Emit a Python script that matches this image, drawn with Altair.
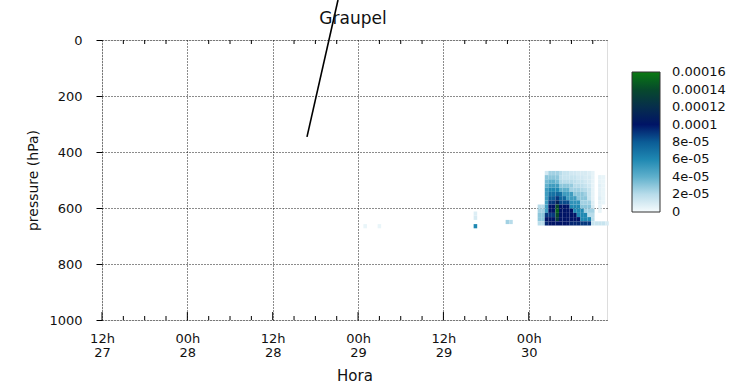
import altair as alt
import pandas as pd

FONT = "DejaVu Sans"

# ---- heatmap block (graupel mixing ratio, units of 1e-5) ----
blob_hours = [61.0, 61.5, 62.0, 62.5, 63.0, 63.5, 64.0, 64.5, 65.0, 65.5, 66.0,
              66.5, 67.0, 67.5, 68.0, 68.5, 69.0, 69.5, 70.0, 70.5, 71.0]
blob_levels = [475, 490, 505, 520, 535, 550, 565, 580, 595, 610, 625, 640, 655]
blob_values = [
    [0, 0, 0, 1.2, 2.5, 2.5, 2.5, 2.0, 1.5, 1.5, 1.2, 1.2, 1.0, 1.0, 1.0, 0.8, 0.5, 0, 0, 0, 0],
    [0, 0, 0, 3.0, 3.0, 3.0, 3.0, 1.8, 1.5, 1.5, 1.5, 1.5, 1.2, 1.2, 1.0, 1.0, 0.5, 0, 0.5, 0.4, 0],
    [0, 0, 0, 3.5, 4.0, 4.0, 3.5, 2.2, 2.0, 2.0, 2.0, 1.8, 1.5, 1.5, 1.2, 1.0, 0.5, 0, 0.5, 0.4, 0],
    [0, 0, 0, 4.0, 5.0, 5.0, 5.0, 3.0, 3.0, 3.0, 2.8, 2.0, 2.0, 1.8, 1.5, 1.2, 0.5, 0, 0.7, 0.4, 0],
    [0, 0, 0, 5.0, 6.0, 6.0, 6.0, 4.0, 4.0, 4.0, 2.5, 2.5, 2.5, 2.2, 2.0, 1.5, 0.5, 0, 0.6, 0.4, 0],
    [0, 0, 0, 5.0, 7.0, 7.0, 7.5, 7.0, 5.0, 5.0, 5.0, 3.0, 3.0, 3.0, 2.5, 1.5, 0.5, 0, 0.6, 0.4, 0],
    [0, 0, 0, 5.0, 8.0, 8.0, 9.0, 7.5, 7.5, 5.0, 5.0, 5.0, 3.0, 3.0, 3.0, 1.5, 0.5, 0, 0.8, 0.4, 0],
    [0, 0, 0, 5.0, 9.0, 9.0, 11.0, 8.5, 8.5, 8.5, 5.5, 5.5, 5.5, 2.5, 2.5, 2.5, 0.8, 0, 0.6, 0.4, 0],
    [0, 2.0, 2.0, 5.0, 10.0, 10.0, 14.0, 10.0, 10.0, 10.0, 6.0, 6.0, 6.0, 3.0, 3.0, 3.0, 1.0, 0, 0.5, 0, 0],
    [0, 2.5, 2.5, 5.0, 10.0, 10.0, 15.0, 10.0, 10.0, 10.0, 10.0, 6.0, 6.0, 6.0, 2.5, 2.5, 2.5, 0, 0.4, 0, 0],
    [0, 3.0, 3.0, 9.0, 9.0, 9.0, 14.0, 10.0, 10.0, 10.0, 10.0, 10.0, 6.0, 6.0, 6.0, 2.0, 2.0, 0, 0, 0, 0],
    [0, 3.0, 3.0, 10.0, 10.0, 10.0, 13.0, 10.0, 10.0, 10.0, 10.0, 10.0, 10.0, 6.0, 6.0, 6.0, 2.0, 0, 0, 0, 0],
    [0, 2.0, 2.0, 9.5, 10.0, 10.0, 10.0, 10.0, 10.0, 10.0, 9.5, 9.5, 9.5, 9.0, 9.0, 9.0, 1.5, 1.5, 1.5, 1.5, 1.0],
]

# ---- isolated cells elsewhere (hour, pressure, value in 1e-5) ----
iso_hours = [37.0, 39.0, 52.5, 52.5, 52.5, 57.0, 57.5]
iso_levels = [665, 665, 665, 635, 620, 650, 650]
iso_values = [0.4, 0.4, 6.0, 1.0, 0.8, 2.5, 2.0]

# ---- axes ----
x_major_hours = [0, 12, 24, 36, 48, 60]
x_major_labels = [["12h", " 27"], ["00h", " 28"], ["12h", " 28"],
                  ["00h", " 29"], ["12h", " 29"], ["00h", " 30"]]
x_minor_hours = [3, 6, 9, 15, 18, 21, 27, 30, 33, 39, 42, 45, 51, 54, 57, 63, 66, 69]
y_ticks = [0, 200, 400, 600, 800, 1000]

# ---- colour bar ----
cbar_values = [0, 2e-5, 4e-5, 6e-5, 8e-5, 1e-4, 1.2e-4, 1.4e-4, 1.6e-4]
cbar_labels = ["0", "2e-05", "4e-05", "6e-05", "8e-05", "0.0001", "0.00012", "0.00014", "0.00016"]
cbar_colors = ["#f6fbfd", "#b8dcea", "#5fb0cc", "#1f88b2", "#0b5c96",
               "#001466", "#062e4c", "#07492c", "#0a7a12"]
# scale stops: the two end stops are nudged a hair outward so the end labels centre on their value
cbar_stops = [-2e-7, 2e-5, 4e-5, 6e-5, 8e-5, 1e-4, 1.2e-4, 1.4e-4, 1.602e-4]

# title and annotation line (hour, pressure)
title_text = ["Graupel"]
line_hours = [28.82, 33.18]
line_levels = [346, -143]

# ---- build tables ----
rows = []
for p, vals in zip(blob_levels, blob_values):
    for h, v in zip(blob_hours, vals):
        if v > 0:
            rows.append({"h": h - 0.25, "h2": h + 0.25, "p": p - 7.5, "p2": p + 7.5, "q": v * 1e-5})
for h, p, v in zip(iso_hours, iso_levels, iso_values):
    rows.append({"h": h - 0.25, "h2": h + 0.25, "p": p - 7.5, "p2": p + 7.5, "q": v * 1e-5})
cells = pd.DataFrame(rows)

xscale = alt.Scale(domain=[0, 71], nice=False, zero=False)
yscale = alt.Scale(domain=[0, 1000], reverse=True, nice=False)

label_js = "[" + ",".join("['%s','%s']" % (a, b) for a, b in x_major_labels) + "]"
cbar_js = "[" + ",".join("'%s'" % s for s in cbar_labels) + "]"

xaxis = alt.Axis(values=x_major_hours, labelExpr=label_js + "[round(datum.value/12)]",
                 ticks=False, domain=False, grid=True, gridDash=[1, 2], gridColor="#000",
                 gridOpacity=0.9, labelFont=FONT, labelFontSize=13, labelColor="#111",
                 labelPadding=12, labelLineHeight=14, labelFlush=False,
                 title="Hora", titleFont=FONT, titleFontSize=15, titleFontWeight="normal",
                 titleColor="#111", titlePadding=9)
yaxis = alt.Axis(values=y_ticks, format="d", tickSize=6, tickColor="#000", domain=False, grid=True,
                 gridDash=[1, 2], gridColor="#000", gridOpacity=0.9,
                 labelFont=FONT, labelFontSize=13, labelColor="#111", labelPadding=14,
                 title="pressure (hPa)", titleFont=FONT, titleFontSize=14,
                 titleFontWeight="normal", titleColor="#111", titlePadding=8)

color = alt.Color("q:Q",
                  scale=alt.Scale(domain=cbar_stops, range=cbar_colors, interpolate="rgb"),
                  legend=alt.Legend(orient="none", legendX=530, legendY=32, direction="vertical",
                                    gradientLength=140, gradientThickness=28,
                                    gradientStrokeColor="#333", gradientStrokeWidth=1,
                                    values=cbar_values,
                                    labelExpr=cbar_js + "[round(datum.value/0.00002)]",
                                    labelFont=FONT, labelFontSize=13, labelColor="#111",
                                    labelOffset=12, title=None, labelOverlap=False))

heat = alt.Chart(cells).mark_rect().encode(
    x=alt.X("h:Q", scale=xscale, axis=xaxis),
    x2="h2:Q",
    y=alt.Y("p:Q", scale=yscale, axis=yaxis),
    y2="p2:Q",
    color=color,
)

minor_df = pd.DataFrame({"h": x_minor_hours})
major_df = pd.DataFrame({"h": x_major_hours})

minor_bot = alt.Chart(minor_df).mark_rule(color="#000").encode(
    x=alt.X("h:Q", scale=xscale), y=alt.value(280), y2=alt.value(276))
minor_top = alt.Chart(minor_df).mark_rule(color="#000").encode(
    x=alt.X("h:Q", scale=xscale), y=alt.value(0), y2=alt.value(4))
major_bot = alt.Chart(major_df).mark_rule(color="#000").encode(
    x=alt.X("h:Q", scale=xscale), y=alt.value(280), y2=alt.value(272))

line_df = pd.DataFrame({"h": line_hours, "p": line_levels})
anno = alt.Chart(line_df).mark_line(color="#000", strokeWidth=1.6, clip=False).encode(
    x=alt.X("h:Q", scale=xscale),
    y=alt.Y("p:Q", scale=yscale),
)

title_mark = alt.Chart(pd.DataFrame({"t": title_text})).mark_text(
    font=FONT, fontSize=17, color="#111", align="center", baseline="alphabetic"
).encode(text="t:N", x=alt.value(251), y=alt.value(-16))

chart = alt.layer(heat, minor_bot, minor_top, major_bot, anno, title_mark).properties(
    width=505, height=280,
    autosize=alt.AutoSizeParams(type="none"),
    padding={"left": 102, "top": 40, "right": 135, "bottom": 66},
).configure_view(stroke="#000", strokeWidth=1).configure(background="white")

chart.save("out.html", embed_options={"renderer": "svg", "actions": False})
